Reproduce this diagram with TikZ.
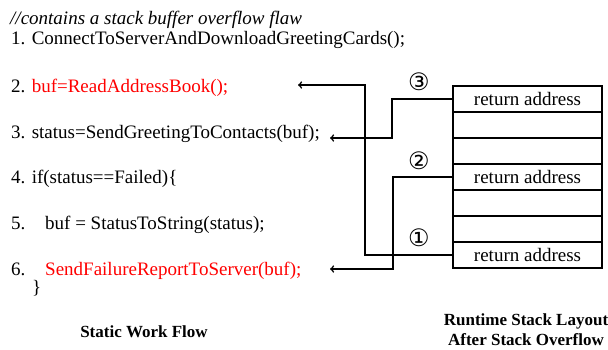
\documentclass[tikz,border=0pt]{standalone}
\usepackage{fontspec}
\setmainfont{Liberation Serif}
\newfontfamily\circfont{DejaVu Sans}
\usetikzlibrary{arrows,positioning}

\begin{document}
\begin{tikzpicture}[x=1pt, y=-1pt, >=to,
    every node/.style={font=\fontsize{19}{22}\selectfont},
    code/.style={anchor=base west, inner sep=0pt},
    bad/.style={text=red},
    slot/.style={draw, line width=1.2pt, minimum width=149pt, minimum height=26pt,
                 inner sep=0pt, outer sep=0pt},
    jump/.style={->, line width=1.6pt},
    circ/.style={font=\circfont\fontsize{24}{26}\selectfont},
    caption/.style={font=\fontsize{17}{20}\selectfont\bfseries, align=center, inner sep=0pt}
    ]
\useasboundingbox (0,0) rectangle (608,349);

% static work flow
\node[code] (l0) at (10,24) {\textit{//contains a stack buffer overflow flaw}};
\node[code] (l1) at (11,44) {1. ConnectToServerAndDownloadGreetingCards();};
\node[code] (l2) at (11,92) {2. \textcolor{red}{buf=ReadAddressBook();}};
\node[code] (l3) at (11,138) {3. status=SendGreetingToContacts(buf);};
\node[code] (l4) at (11,183) {4. if(status==Failed)\{};
\node[code] (n5) at (11,229) {5.};
\node[code] (l5) at (45,229) {buf = StatusToString(status);};
\node[code] (n6) at (11,275) {6.};
\node[code, bad] (l6) at (45,275) {SendFailureReportToServer(buf);};
\node[code] (l7) at (32,293) {\}};
\node[caption] (sflow) at (144,332) {Static Work Flow};

% runtime stack
\node[slot] (s1) at (527.5,99) {return address};
\node[slot, below=0pt of s1] (s2) {};
\node[slot, below=0pt of s2] (s3) {};
\node[slot, below=0pt of s3] (s4) {return address};
\node[slot, below=0pt of s4] (s5) {};
\node[slot, below=0pt of s5] (s6) {};
\node[slot, below=0pt of s6] (s7) {return address};
\node[caption] (rlayout) at (526,330) {Runtime Stack Layout\\After Stack Overflow};

\coordinate (t2) at (298,85);
\coordinate (t3) at (330,138);
\coordinate (t6) at (330,269);

\node[circ] (c3) at (419,82) {③};
\node[circ] (c2) at (419,161) {②};
\node[circ] (c1) at (419,238) {①};

\draw[jump] (s7.west) -| (365,85) -- (t2);
\draw[jump] (s1.west) -| (392,138) -- (t3);
\draw[jump] (s4.west) -| (393,269) -- (t6);
\end{tikzpicture}
\end{document}
